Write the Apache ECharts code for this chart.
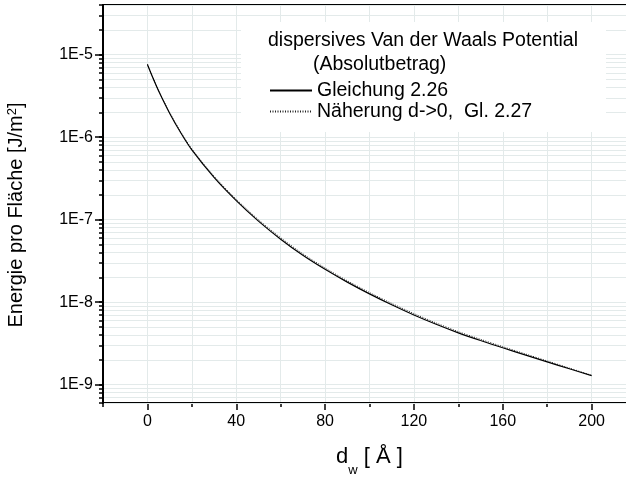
<!DOCTYPE html>
<html>
<head>
<meta charset="utf-8">
<script src="https://cdn.jsdelivr.net/npm/echarts@6/dist/echarts.min.js"></script>
<style>
html,body{margin:0;padding:0;background:#fff;}
#chart{width:626px;height:477px;}
</style>
</head>
<body>
<div id="chart"></div>
<script>
// ---- data ----
const dw = [0, 2.5, 5, 10, 15, 20, 30, 40, 50, 60, 70, 80, 90, 100, 110, 120, 130, 140, 150, 160, 170, 180, 190, 200];
const gleichung226 = [7.6e-6, 5.2e-6, 3.65e-6, 1.95e-6, 1.13e-6, 7.0e-7, 3.25e-7, 1.7e-7, 9.6e-8, 5.8e-8, 3.7e-8, 2.5e-8, 1.75e-8, 1.26e-8, 9.3e-9, 7.0e-9, 5.4e-9, 4.25e-9, 3.43e-9, 2.8e-9, 2.3e-9, 1.89e-9, 1.56e-9, 1.29e-9];
const naeherung227 = [7.7e-6, 5.27e-6, 3.71e-6, 1.99e-6, 1.16e-6, 7.22e-7, 3.37e-7, 1.77e-7, 1.0e-7, 6.05e-8, 3.86e-8, 2.6e-8, 1.82e-8, 1.31e-8, 9.68e-9, 7.28e-9, 5.6e-9, 4.4e-9, 3.55e-9, 2.89e-9, 2.37e-9, 1.94e-9, 1.59e-9, 1.3e-9];
const xTickLabels = [0, 40, 80, 120, 160, 200];
const yTickLabels = [1e-9, 1e-8, 1e-7, 1e-6, 1e-5];
const yLabelText = ['1E-9', '1E-8', '1E-7', '1E-6', '1E-5'];
const seriesNames = ['Gleichung 2.26', 'Näherung d->0,  Gl. 2.27'];
const legendTitle = 'dispersives Van der Waals Potential';
const legendSub = '(Absolutbetrag)';

// minor grid values (1..9 x decade)
const yMinor = [];
for (let e = -10; e <= -5; e++) {
  for (let m = 1; m <= 9; m++) {
    const v = m * Math.pow(10, e);
    if (v >= 6e-10 && v <= 4e-5) yMinor.push(v);
  }
}

const FONT = 'Liberation Sans, Arial, sans-serif';
const GRIDC = '#e3eaea';
const X_MIN = -20, X_MAX = 220, Y_MIN = 6e-10, Y_MAX = 4e-5;

const chart = echarts.init(document.getElementById('chart'));
const pair = (xs, ys) => xs.map((x, i) => [x, ys[i]]);

chart.setOption({
  animation: false,
  backgroundColor: '#fff',
  grid: { left: 103, top: 5, right: -10, bottom: 74, outerBoundsMode: 'none', containLabel: false },
  xAxis: [
    { type: 'value', position: 'bottom', min: X_MIN, max: X_MAX, interval: 20,
      axisLine: { show: true, onZero: false, lineStyle: { color: '#000', width: 2 } },
      axisTick: { show: true, inside: false, length: 4, lineStyle: { color: '#000', width: 1.5 } },
      axisLabel: { show: false },
      splitLine: { show: true, lineStyle: { color: GRIDC, width: 1 } } },
    { type: 'value', position: 'bottom', min: X_MIN, max: X_MAX,
      axisLine: { show: false, onZero: false },
      axisTick: { show: true, length: 7, customValues: xTickLabels, lineStyle: { color: '#000', width: 1.5 } },
      axisLabel: { show: true, customValues: xTickLabels, margin: 11, color: '#000', fontSize: 16, fontFamily: FONT },
      splitLine: { show: false },
      name: '{d|d}{w|w}{t| [ Å ]}', nameLocation: 'middle', nameGap: 49,
      nameTextStyle: { color: '#000', fontFamily: FONT,
        rich: {
          d: { fontSize: 22, fontFamily: FONT, color: '#000', lineHeight: 25, verticalAlign: 'bottom', padding: [0, 0, 9, 0] },
          w: { fontSize: 13, fontFamily: FONT, color: '#000', lineHeight: 13, verticalAlign: 'bottom' },
          t: { fontSize: 22, fontFamily: FONT, color: '#000', lineHeight: 25, verticalAlign: 'bottom', padding: [0, 0, 9, 0] }
        } } },
    { type: 'value', position: 'top', min: X_MIN, max: X_MAX,
      axisLine: { show: true, onZero: false, lineStyle: { color: '#000', width: 2 } },
      axisTick: { show: false }, axisLabel: { show: false }, splitLine: { show: false } }
  ],
  yAxis: [
    { type: 'log', position: 'left', min: Y_MIN, max: Y_MAX, logBase: 10, z: 3,
      axisLine: { show: true, onZero: false, lineStyle: { color: '#000', width: 2 } },
      axisTick: { show: true, length: 8, customValues: yTickLabels, lineStyle: { color: '#000', width: 1.5 } },
      axisLabel: { show: true, customValues: yTickLabels, margin: 10, color: '#000', fontSize: 16, fontFamily: FONT,
        formatter: v => { const i = yTickLabels.findIndex(t => Math.abs(Math.log10(t) - Math.log10(v)) < 1e-6); return i >= 0 ? yLabelText[i] : ''; } },
      splitLine: { show: false },
      name: 'Energie pro Fläche [J/m{s|2}]', nameLocation: 'middle', nameGap: 76, nameRotate: 90,
      nameTextStyle: { color: '#000', fontSize: 20, fontFamily: FONT, padding: [0, 22, 0, 0],
        rich: { s: { fontSize: 13, fontFamily: FONT, color: '#000', verticalAlign: 'top', padding: [0, 0, 8, 0] } } } },
    { type: 'log', position: 'left', min: Y_MIN, max: Y_MAX, logBase: 10, z: 2,
      axisLine: { show: true, onZero: false, lineStyle: { color: '#000', width: 2 } },
      axisTick: { show: true, length: 4, customValues: yMinor, lineStyle: { color: '#000', width: 1.5 } },
      axisLabel: { show: false },
      splitLine: { show: true, lineStyle: { color: GRIDC, width: 1 } } }
  ],
  legend: {
    orient: 'vertical', left: 269, top: 80, itemGap: 0, itemWidth: 42, itemHeight: 21,
    padding: 0, itemStyle: { opacity: 0 },
    textStyle: { color: '#000', fontSize: 19.5, fontFamily: FONT, lineHeight: 21 },
    data: seriesNames, z: 10
  },
  graphic: [
    { type: 'rect', left: 241, top: 22, z: 5, shape: { width: 365, height: 110 }, style: { fill: '#fff' } },
    { type: 'text', left: 268, top: 31, z: 6, style: { text: legendTitle, fill: '#000', font: '19.5px ' + FONT } },
    { type: 'text', left: 313, top: 55, z: 6, style: { text: legendSub, fill: '#000', font: '19.5px ' + FONT } }
  ],
  series: [
    { name: seriesNames[1], type: 'line', xAxisIndex: 0, yAxisIndex: 0, data: pair(dw, naeherung227),
      symbol: 'none', smooth: 0.3, itemStyle: { color: '#222' }, lineStyle: { color: '#222', width: 1, type: [1, 1.5] } },
    { name: seriesNames[0], type: 'line', xAxisIndex: 0, yAxisIndex: 0, data: pair(dw, gleichung226),
      symbol: 'none', smooth: 0.3, itemStyle: { color: '#000' }, lineStyle: { color: '#000', width: 1.2, type: 'solid' } }
  ]
});
</script>
</body>
</html>
